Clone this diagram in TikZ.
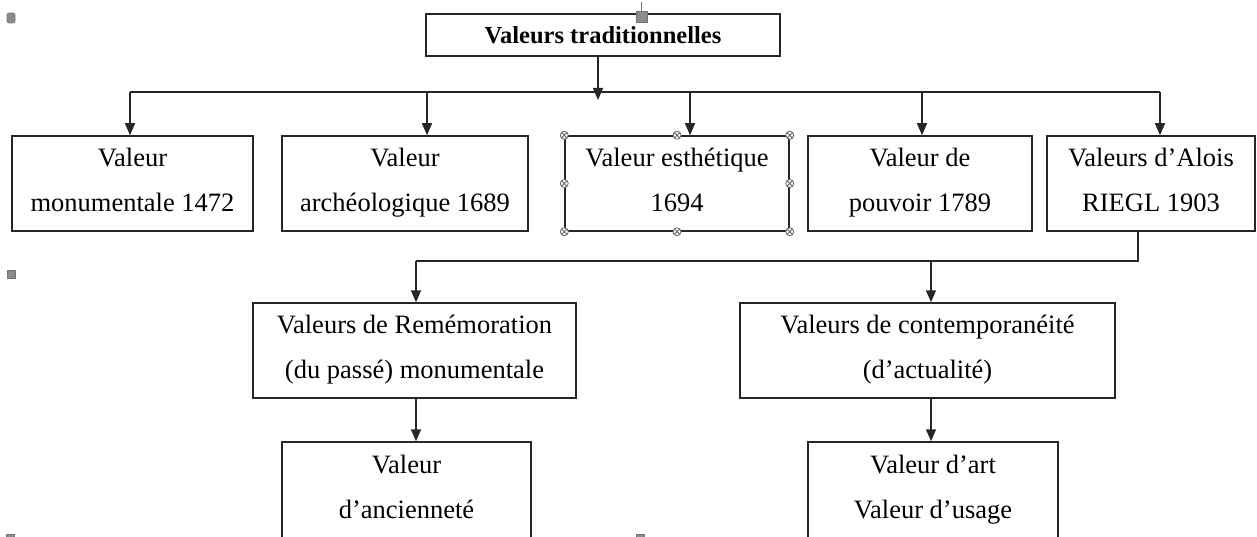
\documentclass[tikz,border=0pt]{standalone}
\usepackage{fontspec}
\setmainfont{Liberation Serif}
\usetikzlibrary{arrows.meta}
\newcommand\valstrut{\rule[-8pt]{0pt}{38pt}}
\tikzstyle{val} = [rectangle, draw=black!85, line width=1.5pt, text centered, align=center, execute at begin node=\valstrut, execute at end node=\valstrut, font={\fontsize{26.5}{45}\selectfont}]
\tikzstyle{title} = [rectangle, draw=black!85, line width=1.5pt, text centered, font={\fontsize{24.5}{30}\selectfont\bfseries}]
\tikzstyle{arrow} = [line width=1.5pt, draw=black!85, -{Triangle[length=12pt,width=10pt]}]
\tikzstyle{link} = [line width=1.5pt, draw=black!85]
\tikzstyle{handle} = [draw=black!60, fill=white, line width=0.8pt]
\tikzstyle{anchorbox} = [fill=black!45, draw=black!55, line width=0.6pt]

\begin{document}
\begin{tikzpicture}[x=1pt,y=-1pt]
\useasboundingbox (0,0) rectangle (1257,537);
\clip (0,0) rectangle (1257,537);
\node[title,minimum width=354pt,minimum height=42pt] (trad) at (603,35) {Valeurs traditionnelles};
\node[val,minimum width=241pt,minimum height=95pt] (monu) at (132.5,183.5) {Valeur\\monumentale 1472};
\node[val,minimum width=246pt,minimum height=95pt] (arch) at (405,183.5) {Valeur\\archéologique 1689};
\node[val,minimum width=224pt,minimum height=95pt] (esth) at (677,183.5) {Valeur esthétique\\1694};
\node[val,minimum width=224pt,minimum height=95pt] (pouv) at (920,183.5) {Valeur de\\pouvoir 1789};
\node[val,minimum width=208pt,minimum height=95pt] (riegl) at (1151,183.5) {Valeurs d'Alois\\RIEGL 1903};
\node[val,minimum width=323pt,minimum height=95pt] (remem) at (414.5,350.5) {Valeurs de Remémoration\\(du passé) monumentale};
\node[val,minimum width=375pt,minimum height=95pt] (contemp) at (927.5,350.5) {Valeurs de contemporanéité\\(d'actualité)};
\node[val,minimum width=249pt,minimum height=98pt] (ancien) at (406.5,491) {Valeur\\d'ancienneté};
\node[val,minimum width=250pt,minimum height=98pt] (art) at (933,491) {Valeur d'art\\Valeur d'usage};

\coordinate (hub) at (598,92);
\coordinate (hubtip) at (598,100);
\coordinate (busL) at (130,92);
\coordinate (busR) at (1160,92);
\coordinate (fork) at (1138,261);
\coordinate (forkL) at (416,261);
\coordinate (forkR) at (931,261);
\draw[link] (busL) -- (busR);
\draw[arrow] (trad.south -| hub) -- (hubtip);
\foreach \n/\x in {monu/130,arch/427,esth/690,pouv/922,riegl/1160}
  \draw[arrow] (\x,92) -- (\x,0 |- \n.north);
\draw[link] (riegl.south -| fork) -- (fork) -- (forkL);
\draw[arrow] (forkL) -- (forkL |- remem.north);
\draw[arrow] (forkR) -- (forkR |- contemp.north);
\draw[arrow] (forkL |- remem.south) -- (forkL |- ancien.north);
\draw[arrow] (forkR |- contemp.south) -- (forkR |- art.north);

\foreach \p in {north west,north,north east,east,south east,south,south west,west}
  \draw[handle] (esth.\p) circle (4) ++(-2.8,-2.8) -- ++(5.6,5.6) ++(0,-5.6) -- ++(-5.6,5.6);

\draw[black!55,line width=0.8pt] (641.5,2) -- (641.5,11);
\filldraw[anchorbox] (636,11) rectangle (647,22);
\filldraw[anchorbox,rounded corners=2pt] (7,13) rectangle (15,23);
\filldraw[anchorbox] (7,270) rectangle (15,278);
\filldraw[anchorbox] (6,534) rectangle (14,542);
\filldraw[anchorbox] (636,534) rectangle (644,542);
\end{tikzpicture}
\end{document}
